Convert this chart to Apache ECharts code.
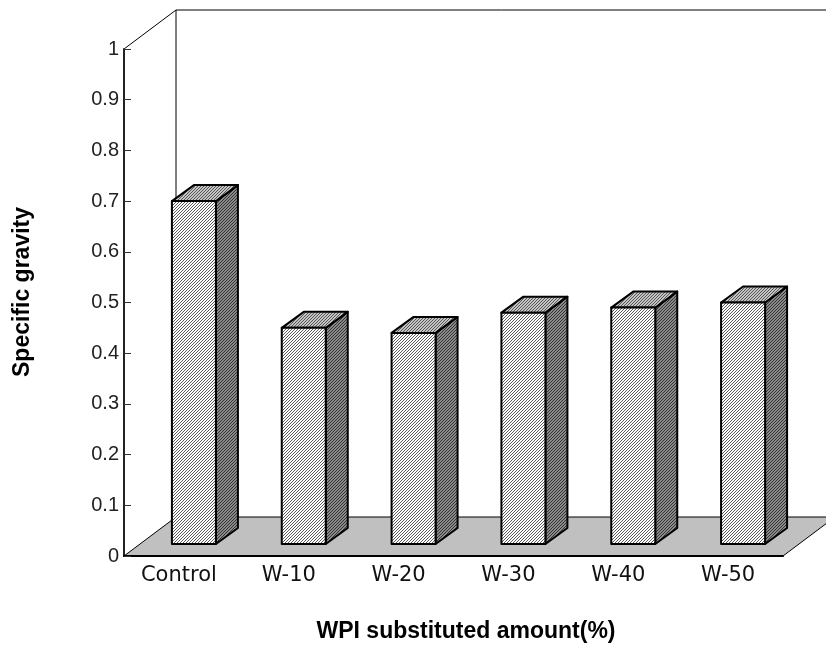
<!DOCTYPE html>
<html><head><meta charset="utf-8">
<script src="https://cdn.jsdelivr.net/npm/echarts@6/dist/echarts.min.js"></script>
<style>html,body{margin:0;padding:0;background:#fff}#c{width:826px;height:646px}</style>
</head><body><div id="c"></div>
<script>
// ---- data ----
const categories = ['Control', 'W-10', 'W-20', 'W-30', 'W-40', 'W-50'];
const gravity = [0.70, 0.45, 0.44, 0.48, 0.49, 0.50];
const yMin = 0, yMax = 1, yStep = 0.1;
const yTitle = 'Specific gravity';
const xTitle = 'WPI substituted amount(%)';

// ---- styles ----
function hatch(bg, fg) {
  const n = 3;
  const c = document.createElement('canvas');
  c.width = n; c.height = n;
  const g = c.getContext('2d');
  g.fillStyle = bg; g.fillRect(0, 0, n, n);
  g.fillStyle = fg;
  for (let i = 0; i < n; i++) g.fillRect(i, n - 1 - i, 1, 1);
  return { image: c, repeat: 'repeat' };
}
const frontFill = hatch('#ffffff', '#5a5a5a');
const sideFill = hatch('#8a8a8a', '#333333');
const topFill = hatch('#c4c4c4', '#555555');

const FLOOR_DX = 52, FLOOR_DY = 39;   // floor / wall depth
const BAR_OX = 15, BAR_OY = 12;       // bar offset into depth
const BAR_W = 44, BAR_DX = 22, BAR_DY = 16;

function renderFloor(params, api) {
  const cs = params.coordSys;
  const x0 = cs.x, yb = cs.y + cs.height, x1 = cs.x + cs.width, yt = cs.y;
  return {
    type: 'group',
    children: [
      { type: 'polygon',
        shape: { points: [[x0, yb], [x1, yb], [x1 + FLOOR_DX, yb - FLOOR_DY], [x0 + FLOOR_DX, yb - FLOOR_DY]] },
        style: { fill: '#c0c0c0', stroke: '#000', lineWidth: 1 } },
      { type: 'polyline',
        shape: { points: [[x0, yt], [x0 + FLOOR_DX, yt - FLOOR_DY], [x1 + FLOOR_DX, yt - FLOOR_DY]] },
        style: { fill: null, stroke: '#000', lineWidth: 1 } },
      { type: 'line',
        shape: { x1: x0 + FLOOR_DX, y1: yt - FLOOR_DY, x2: x0 + FLOOR_DX, y2: yb - FLOOR_DY },
        style: { stroke: '#000', lineWidth: 1 } }
    ]
  };
}

function renderBar(params, api) {
  const i = api.value(0), v = api.value(1);
  const top = api.coord([i, v]);
  const base = api.coord([i, 0]);
  const x0 = top[0] + BAR_OX - BAR_W / 2;
  const x1 = x0 + BAR_W;
  const yb = base[1] - BAR_OY;
  const yt = top[1];
  const st = { stroke: '#000', lineWidth: 2, lineJoin: 'round' };
  return {
    type: 'group',
    children: [
      { type: 'polygon', shape: { points: [[x1, yb], [x1 + BAR_DX, yb - BAR_DY], [x1 + BAR_DX, yt - BAR_DY], [x1, yt]] },
        style: Object.assign({ fill: sideFill }, st) },
      { type: 'polygon', shape: { points: [[x0, yt], [x0 + BAR_DX, yt - BAR_DY], [x1 + BAR_DX, yt - BAR_DY], [x1, yt]] },
        style: Object.assign({ fill: topFill }, st) },
      { type: 'rect', shape: { x: x0, y: yt, width: BAR_W, height: yb - yt },
        style: Object.assign({ fill: frontFill }, st) }
    ]
  };
}

const chart = echarts.init(document.getElementById('c'), null, { renderer: 'canvas' });
chart.setOption({
  backgroundColor: '#ffffff',
  animation: false,
  grid: { left: 124, right: 43, top: 49, bottom: 90 },
  xAxis: {
    type: 'category', data: categories, boundaryGap: true,
    axisLine: { lineStyle: { color: '#000', width: 2 } },
    axisTick: { inside: true, length: 7, lineStyle: { color: '#333', width: 1 } },
    axisLabel: { fontFamily: 'DejaVu Sans', fontSize: 21, color: '#111', margin: 9 },
    splitLine: { show: false }
  },
  yAxis: {
    type: 'value', min: yMin, max: yMax, interval: yStep,
    axisLine: { show: true, lineStyle: { color: '#222', width: 2 } },
    axisTick: { show: true, inside: true, length: 7, lineStyle: { color: '#333', width: 1 } },
    axisLabel: { fontFamily: 'Liberation Sans', fontSize: 20, color: '#222', margin: 5,
      formatter: v => String(Math.round(v * 10) / 10) },
    splitLine: { show: false }
  },
  graphic: [
    { type: 'text', rotation: Math.PI / 2, x: 23, y: 292,
      style: { text: yTitle, font: 'bold 23px "Liberation Sans"', fill: '#000', align: 'center', verticalAlign: 'middle' } },
    { type: 'text', x: 466, y: 632,
      style: { text: xTitle, font: 'bold 23px "Liberation Sans"', fill: '#000', align: 'center', verticalAlign: 'middle' } }
  ],
  series: [
    { type: 'custom', z: -1, renderItem: renderFloor, data: [[0, 0]], silent: true },
    { type: 'custom', z: 3, renderItem: renderBar, data: gravity.map((v, i) => [i, v]) }
  ]
});
</script></body></html>
